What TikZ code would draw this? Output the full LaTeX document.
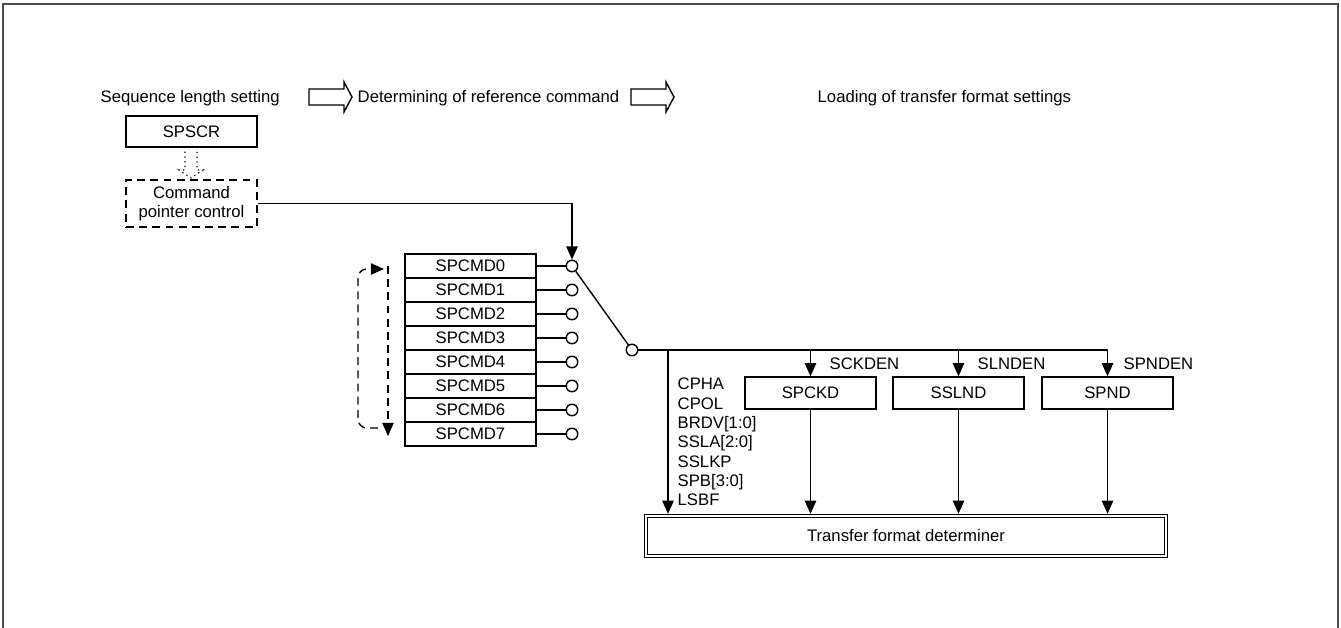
\documentclass[tikz,border=0pt]{standalone}
\usepackage{fontspec}
\setmainfont{Liberation Sans}
\usetikzlibrary{arrows.meta,positioning,calc}
\newcommand\figfont{\fontsize{9.5}{11}\selectfont}

\begin{document}
\begin{tikzpicture}[
    x=0.02cm, y=-0.02cm, line width=0.8pt,
    regbox/.style={draw, minimum width=2.62cm, minimum height=0.48cm, inner sep=0pt, font=\figfont},
    port/.style={draw, circle, fill=white, minimum size=0.23cm, inner sep=0pt},
    lbl/.style={inner sep=0pt, font=\figfont},
    arr/.style={-{Triangle[length=7.5pt, width=6.5pt]}},
    dsh/.style={dash pattern=on 4.5pt off 3pt},
    hollow/.style={draw, line join=miter},
    frame/.style={draw=black!70, line width=1.2pt}
]
\useasboundingbox (0,0) rectangle (1341,628);
\draw[frame] (3,628) -- (3,4) -- (1338,4) -- (1338,628);

% stage titles
\node[lbl, anchor=base west] (seq) at (100,103) {Sequence length setting};
\node[lbl, anchor=base west] (det) at (357,103) {Determining of reference command};
\node[lbl, anchor=base west] (load) at (817,103) {Loading of transfer format settings};
\foreach \x in {309,631}
  \draw[hollow] (\x,89) -- ++(35,0) -- ++(0,-7) -- ++(8,15) -- ++(-8,15) -- ++(0,-7) -- ++(-35,0) -- cycle;

% sequence length / pointer
\node[regbox, minimum height=0.62cm] (spscr) at (191.5,131.5) {SPSCR};
\node[regbox, dsh, minimum height=0.94cm, align=center] (ptr) at (191.5,203.5) {Command\\pointer control};
\draw[dotted, line width=0.7pt] (185,147) -- (185,170) -- (179,170) -- (191,178) -- (203,170) -- (197,170) -- (197,147);

% command registers
\foreach \i in {0,...,7} {
  \node[regbox] (cmd\i) at (470.5,266+24*\i) {SPCMD\i};
  \node[port] (p\i) at (572,266+24*\i) {};
  \draw (cmd\i) -- (p\i);
}
\draw[dsh, arr] (388,266) -- (388,436);
\draw[dsh, arr, rounded corners=5pt] (378,428) -- (358,428) -- (358,269) -- (384,269);

% selector
\node[port] (sw) at (632,350) {};
\draw (p0) -- (sw);
\draw[arr] (ptr.east) -| (p0.north);

% transfer format
\node[regbox, minimum height=0.64cm] (spckd) at (810.5,393) {SPCKD};
\node[regbox, minimum height=0.64cm] (sslnd) at (958.5,393) {SSLND};
\node[regbox, minimum height=0.64cm] (spnd) at (1107.5,393) {SPND};
\node[regbox, double, double distance=1.5pt, line width=0.5pt, outer sep=1.25pt,
      minimum width=10.4cm, minimum height=0.8cm] (tfd) at (906,536) {Transfer format determiner};
\node[lbl, anchor=base west] (sckden) at (829,369) {SCKDEN};
\node[lbl, anchor=base west] (slnden) at (977,369) {SLNDEN};
\node[lbl, anchor=base west] (spnden) at (1123,369) {SPNDEN};
\node[lbl, align=left, anchor=west] (bits) at (677,442) {CPHA\\CPOL\\BRDV[1:0]\\SSLA[2:0]\\SSLKP\\SPB[3:0]\\LSBF};

\coordinate (tap) at (668,350);
\draw (sw.east) -- (sw.east -| spnd.north);
\draw[arr] (tap) -- (tap |- tfd.north);
\foreach \b in {spckd,sslnd,spnd} {
  \draw[arr] (\b.north |- sw) -- (\b.north);
  \draw[arr] (\b) -- (\b |- tfd.north);
}
\end{tikzpicture}
\end{document}
